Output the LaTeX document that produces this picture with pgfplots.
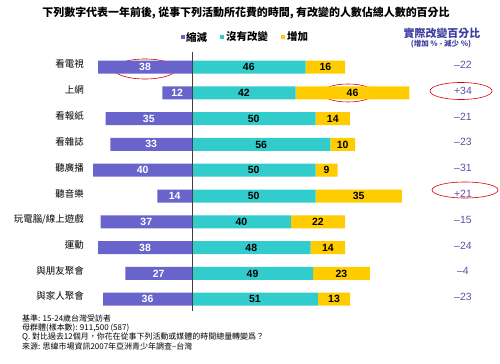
\documentclass[border=0pt]{standalone}
\usepackage{pgfplots}
\pgfplotsset{compat=1.18}
\usepackage{fontspec}
\setmainfont{Liberation Sans}
\newfontfamily\cjk{Noto Sans CJK TC}
\definecolor{dec}{RGB}{104,100,204}
\definecolor{same}{RGB}{51,204,204}
\definecolor{inc}{RGB}{255,204,0}
\definecolor{net}{RGB}{84,84,166}
\definecolor{hdr}{RGB}{62,62,160}
\begin{document}
\begin{tikzpicture}[x=1bp,y=1bp]
\pgfplotsset{base/.style={at={(0,0)},anchor=south west,scale only axis,
  width=500bp,height=363bp,xmin=-77.73,xmax=124.70,ymin=-2.597,ymax=11.473,
  y dir=reverse,hide axis,clip=false,bar width=13bp}}
\path (0,0) rectangle (500,363);
% red ellipses (behind bars)
\draw[red!85!black,line width=0.6bp] (145,294) ellipse [x radius=31,y radius=10];
\draw[red!85!black,line width=0.6bp] (348,270) ellipse [x radius=26,y radius=9];
\draw[red!85!black,line width=0.6bp] (461,272) ellipse [x radius=31,y radius=8.5];
\draw[red!85!black,line width=0.6bp] (465,173) ellipse [x radius=33,y radius=8];
\begin{axis}[base,xbar stacked]
\addplot[fill=same,draw=none] coordinates {(46,0) (42,1) (50,2) (56,3) (50,4) (50,5) (40,6) (48,7) (49,8) (51,9)};
\addplot[fill=inc,draw=none] coordinates {(16,0) (46,1) (14,2) (10,3) (9,4) (35,5) (22,6) (14,7) (23,8) (13,9)};
\end{axis}
\begin{axis}[base]
\addplot[xbar,fill=dec,draw=none] coordinates {(-38,0) (-12,1) (-35,2) (-33,3) (-40,4) (-14,5) (-37,6) (-38,7) (-27,8) (-36,9)};
\draw[black!75,line width=0.8bp] (axis cs:0,-0.6) -- (axis cs:0,9.45);
% labels in purple bars
\addplot[draw=none,mark=none,point meta=explicit symbolic,nodes near coords,
  nodes near coords style={anchor=center,text=white,font=\fontsize{10.5}{12}\selectfont\bfseries}]
  coordinates {(-19,0)[38] (-6,1)[12] (-17.5,2)[35] (-16.5,3)[33] (-20,4)[40] (-7,5)[14] (-18.5,6)[37] (-19,7)[38] (-13.5,8)[27] (-18,9)[36]};
\addplot[draw=none,mark=none,point meta=explicit symbolic,nodes near coords,
  nodes near coords style={anchor=center,text=black,font=\fontsize{10.5}{12}\selectfont\bfseries}]
  coordinates {(23,0)[46] (21,1)[42] (25,2)[50] (28,3)[56] (25,4)[50] (25,5)[50] (20,6)[40] (24,7)[48] (24.5,8)[49] (25.5,9)[51]};
\addplot[draw=none,mark=none,point meta=explicit symbolic,nodes near coords,
  nodes near coords style={anchor=center,text=black,font=\fontsize{10.5}{12}\selectfont\bfseries}]
  coordinates {(54,0)[16] (65,1)[46] (57,2)[14] (61,3)[10] (54.5,4)[9] (67.5,5)[35] (51,6)[22] (55,7)[14] (60.5,8)[23] (57.5,9)[13]};
\addplot[draw=none,mark=none,point meta=explicit symbolic,nodes near coords,
  nodes near coords style={anchor=center,text=net,font=\fontsize{10.5}{12}\selectfont}]
  coordinates {(109.7,-0.08)[–22] (109.7,-0.08+1)[+34] (109.7,1.92)[–21] (109.7,2.92)[–23] (109.7,3.92)[–31] (109.7,4.92)[+21] (109.7,5.92)[–15] (109.7,6.92)[–24] (109.7,7.92)[–4] (109.7,8.92)[–23]};
\end{axis}
% category labels
\begin{scope}[every node/.style={anchor=east,inner sep=0pt,font=\cjk\fontsize{9.5}{11}\selectfont}]
\node at (84,299) {看電視};
\node at (84,273) {上網};
\node at (84,247) {看報紙};
\node at (84,221) {看雜誌};
\node at (84,195) {聽廣播};
\node at (84,169) {聽音樂};
\node at (84,144) {玩電腦/線上遊戲};
\node at (84,118) {運動};
\node at (84,92) {與朋友聚會};
\node at (84,67) {與家人聚會};
\end{scope}
% title
\node[font=\cjk\bfseries\fontsize{11}{13}\selectfont,inner sep=0pt] at (246,350) {下列數字代表一年前後, 從事下列活動所花費的時間, 有改變的人數佔總人數的百分比};
% legend
\fill[dec] (181,324) rectangle (185,328);
\node[anchor=west,inner sep=0pt,font=\cjk\bfseries\fontsize{10.5}{12}\selectfont] at (186,326) {縮減};
\fill[same] (220,324) rectangle (224,328);
\node[anchor=west,inner sep=0pt,font=\cjk\bfseries\fontsize{10.5}{12}\selectfont] at (226,326) {沒有改變};
\fill[inc] (281,324) rectangle (285,328);
\node[anchor=west,inner sep=0pt,font=\cjk\bfseries\fontsize{10.5}{12}\selectfont] at (287,326) {增加};
% right header
\node[text=hdr,inner sep=0pt,font=\cjk\bfseries\fontsize{11}{13}\selectfont] at (442,330) {實際改變百分比};
\node[text=hdr,inner sep=0pt,font=\cjk\bfseries\fontsize{7.5}{9}\selectfont] at (441,319) {(增加 \% - 減少 \%)};
% footnotes
\begin{scope}[every node/.style={anchor=west,inner sep=0pt,font=\cjk\fontsize{8}{9}\selectfont}]
\node at (22,45) {基準: 15-24歲台灣受訪者};
\node at (22,35.5) {母群體(樣本數): 911,500 (587)};
\node at (22,26) {Q. 對比過去12個月，你花在從事下列活動或媒體的時間總量轉變爲？};
\node at (22,16.5) {來源: 思緯市場資訊2007年亞洲青少年調查–台灣};
\end{scope}
\end{tikzpicture}
\end{document}
